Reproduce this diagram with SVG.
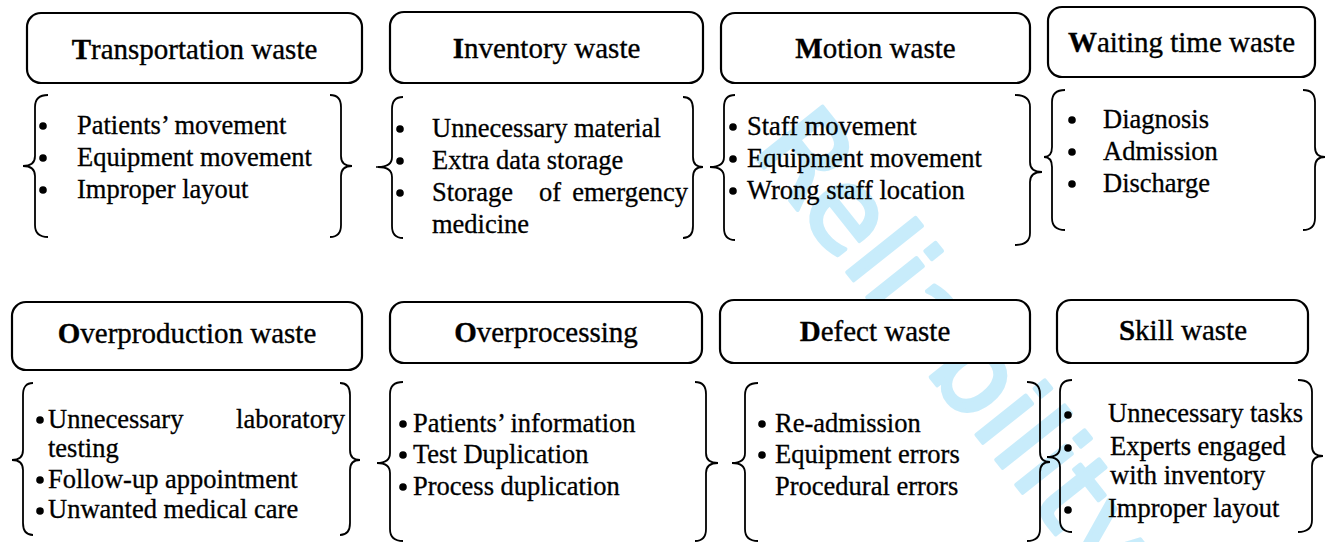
<svg xmlns="http://www.w3.org/2000/svg" width="1326" height="542" viewBox="0 0 1326 542">
<style>
.box{fill:#fff;stroke:#000;stroke-width:2.2}
.br{fill:none;stroke:#000;stroke-width:1.8}
.h{font-size:29px;text-anchor:middle;fill:#000;stroke:#000;stroke-width:0.35}
.h tspan{font-weight:bold}
.t{font-size:26.5px;fill:#000;stroke:#000;stroke-width:0.3}
.e{text-anchor:end}
.wm{font-size:115px;fill:#c8ecfb;stroke:#c8ecfb;stroke-width:4;stroke-linejoin:round}
</style>
<rect width="1326" height="542" fill="#fff"/>
<text class="wm" font-family="DejaVu Sans" transform="translate(750,150) rotate(51.5)">Reliability</text>

<g id="connectors">
<line x1="376" y1="167" x2="381" y2="167" stroke="#000" stroke-width="1.5"/>
<line x1="377" y1="463" x2="382" y2="463" stroke="#000" stroke-width="1.5"/>
</g>

<g font-family="Liberation Serif">
<g id="transportation">
<rect class="box" x="27" y="13" width="335" height="70" rx="14"/>
<text class="h" font-family="Liberation Serif" x="194.5" y="59"><tspan>T</tspan>ransportation waste</text>
<path class="br" d="M48,95 Q35,95 35,107 L35,156 Q35,166 23,166 Q35,166 35,176 L35,225 Q35,237 48,237"/>
<path class="br" d="M330,95 Q341,95 341,107 L341,156 Q341,166 352,166 Q341,166 341,176 L341,225 Q341,237 330,237"/>
<circle cx="43" cy="126" r="3.8"/><circle cx="43" cy="158" r="3.8"/><circle cx="43" cy="190" r="3.8"/>
<text class="t" font-family="Liberation Serif" x="77" y="134">Patients’ movement</text>
<text class="t" font-family="Liberation Serif" x="77" y="166">Equipment movement</text>
<text class="t" font-family="Liberation Serif" x="77" y="198">Improper layout</text>
</g>

<g id="inventory">
<rect class="box" x="390" y="12" width="313" height="71" rx="14"/>
<text class="h" font-family="Liberation Serif" x="546.5" y="58"><tspan>I</tspan>nventory waste</text>
<path class="br" d="M403,97 Q392,97 392,109 L392,157 Q392,167 378,167 Q392,167 392,177 L392,226 Q392,238 403,238"/>
<path class="br" d="M683,97 Q693,97 693,109 L693,157 Q693,167 703,167 Q693,167 693,177 L693,226 Q693,238 683,238"/>
<circle cx="400" cy="129" r="3.8"/><circle cx="400" cy="161" r="3.8"/><circle cx="400" cy="193" r="3.8"/>
<text class="t" font-family="Liberation Serif" x="432" y="137">Unnecessary material</text>
<text class="t" font-family="Liberation Serif" x="432" y="169">Extra data storage</text>
<text class="t" font-family="Liberation Serif" x="432" y="201">Storage</text>
<text class="t" font-family="Liberation Serif" x="539" y="201">of</text>
<text class="t e" font-family="Liberation Serif" x="688" y="201">emergency</text>
<text class="t" font-family="Liberation Serif" x="432" y="233">medicine</text>
</g>

<g id="motion">
<rect class="box" x="721" y="13" width="309" height="70" rx="14"/>
<text class="h" font-family="Liberation Serif" x="875.5" y="58"><tspan>M</tspan>otion waste</text>
<path class="br" d="M735,95 Q724,95 724,107 L724,157 Q724,167 710,167 Q724,167 724,177 L724,228 Q724,240 735,240"/>
<path class="br" d="M1015,95 Q1030,95 1030,107 L1030,162 Q1030,172 1042,172 Q1030,172 1030,182 L1030,233 Q1030,245 1015,245"/>
<circle cx="733" cy="127" r="3.8"/><circle cx="733" cy="159" r="3.8"/><circle cx="733" cy="191" r="3.8"/>
<text class="t" font-family="Liberation Serif" x="747" y="135">Staff movement</text>
<text class="t" font-family="Liberation Serif" x="747" y="167">Equipment movement</text>
<text class="t" font-family="Liberation Serif" x="747" y="199">Wrong staff location</text>
</g>

<g id="waiting">
<rect class="box" x="1048" y="7" width="267" height="70" rx="14"/>
<text class="h" font-family="Liberation Serif" x="1181.5" y="52"><tspan>W</tspan>aiting time waste</text>
<path class="br" d="M1065,90 Q1052,90 1052,102 L1052,147 Q1052,157 1044,157 Q1052,157 1052,167 L1052,218 Q1052,230 1065,230"/>
<path class="br" d="M1303,90 Q1315,90 1315,102 L1315,147 Q1315,157 1325,157 Q1315,157 1315,167 L1315,218 Q1315,230 1303,230"/>
<circle cx="1072" cy="120" r="3.8"/><circle cx="1072" cy="152" r="3.8"/><circle cx="1072" cy="184" r="3.8"/>
<text class="t" font-family="Liberation Serif" x="1103" y="128">Diagnosis</text>
<text class="t" font-family="Liberation Serif" x="1103" y="160">Admission</text>
<text class="t" font-family="Liberation Serif" x="1103" y="192">Discharge</text>
</g>

<g id="overproduction">
<rect class="box" x="12" y="302" width="350" height="68" rx="14"/>
<text class="h" font-family="Liberation Serif" x="187" y="343"><tspan>O</tspan>verproduction waste</text>
<path class="br" d="M33,383 Q23,383 23,395 L23,450 Q23,460 12,460 Q23,460 23,470 L23,523 Q23,535 33,535"/>
<path class="br" d="M340,383 Q350,383 350,395 L350,450 Q350,460 360,460 Q350,460 350,470 L350,523 Q350,535 340,535"/>
<circle cx="40" cy="420" r="3.8"/><circle cx="40" cy="480" r="3.8"/><circle cx="40" cy="511" r="3.8"/>
<text class="t" font-family="Liberation Serif" x="48" y="428">Unnecessary</text>
<text class="t e" font-family="Liberation Serif" x="345" y="428">laboratory</text>
<text class="t" font-family="Liberation Serif" x="48" y="457">testing</text>
<text class="t" font-family="Liberation Serif" x="48" y="488">Follow-up appointment</text>
<text class="t" font-family="Liberation Serif" x="48" y="518">Unwanted medical care</text>
</g>

<g id="overprocessing">
<rect class="box" x="390" y="302" width="312" height="61" rx="14"/>
<text class="h" font-family="Liberation Serif" x="546" y="342"><tspan>O</tspan>verprocessing</text>
<path class="br" d="M403,382 Q390,382 390,394 L390,453 Q390,463 377,463 Q390,463 390,473 L390,529 Q390,541 403,541"/>
<path class="br" d="M695,382 Q706,382 706,394 L706,453 Q706,463 718,463 Q706,463 706,473 L706,529 Q706,541 695,541"/>
<circle cx="403" cy="424" r="3.8"/><circle cx="403" cy="455" r="3.8"/><circle cx="403" cy="487" r="3.8"/>
<text class="t" font-family="Liberation Serif" x="413" y="432">Patients’ information</text>
<text class="t" font-family="Liberation Serif" x="413" y="463">Test Duplication</text>
<text class="t" font-family="Liberation Serif" x="413" y="495">Process duplication</text>
</g>

<g id="defect">
<rect class="box" x="720" y="300" width="310" height="63" rx="14"/>
<text class="h" font-family="Liberation Serif" x="875" y="341"><tspan>D</tspan>efect waste</text>
<path class="br" d="M758,383 Q745,383 745,395 L745,453 Q745,463 732,463 Q745,463 745,473 L745,529 Q745,541 758,541"/>
<path class="br" d="M1027,382 Q1040,382 1040,394 L1040,452 Q1040,462 1050,462 Q1040,462 1040,472 L1040,529 Q1040,541 1027,541"/>
<circle cx="762" cy="424" r="3.8"/><circle cx="762" cy="455" r="3.8"/>
<text class="t" font-family="Liberation Serif" x="775" y="432">Re-admission</text>
<text class="t" font-family="Liberation Serif" x="775" y="463">Equipment errors</text>
<text class="t" font-family="Liberation Serif" x="775" y="495">Procedural errors</text>
</g>

<g id="skill">
<rect class="box" x="1057" y="300" width="251" height="63" rx="14"/>
<text class="h" font-family="Liberation Serif" x="1183" y="340"><tspan>S</tspan>kill waste</text>
<path class="br" d="M1072,380 Q1060,380 1060,392 L1060,447 Q1060,457 1047,457 Q1060,457 1060,467 L1060,520 Q1060,532 1072,532"/>
<path class="br" d="M1298,380 Q1312,380 1312,392 L1312,446 Q1312,456 1323,456 Q1312,456 1312,466 L1312,520 Q1312,532 1298,532"/>
<circle cx="1068" cy="415" r="3.8"/><circle cx="1068" cy="448" r="3.8"/><circle cx="1068" cy="510" r="3.8"/>
<text class="t" font-family="Liberation Serif" x="1108" y="422">Unnecessary tasks</text>
<text class="t" font-family="Liberation Serif" x="1110" y="455">Experts engaged</text>
<text class="t" font-family="Liberation Serif" x="1110" y="484">with inventory</text>
<text class="t" font-family="Liberation Serif" x="1108" y="517">Improper layout</text>
</g>
</g>
</svg>
